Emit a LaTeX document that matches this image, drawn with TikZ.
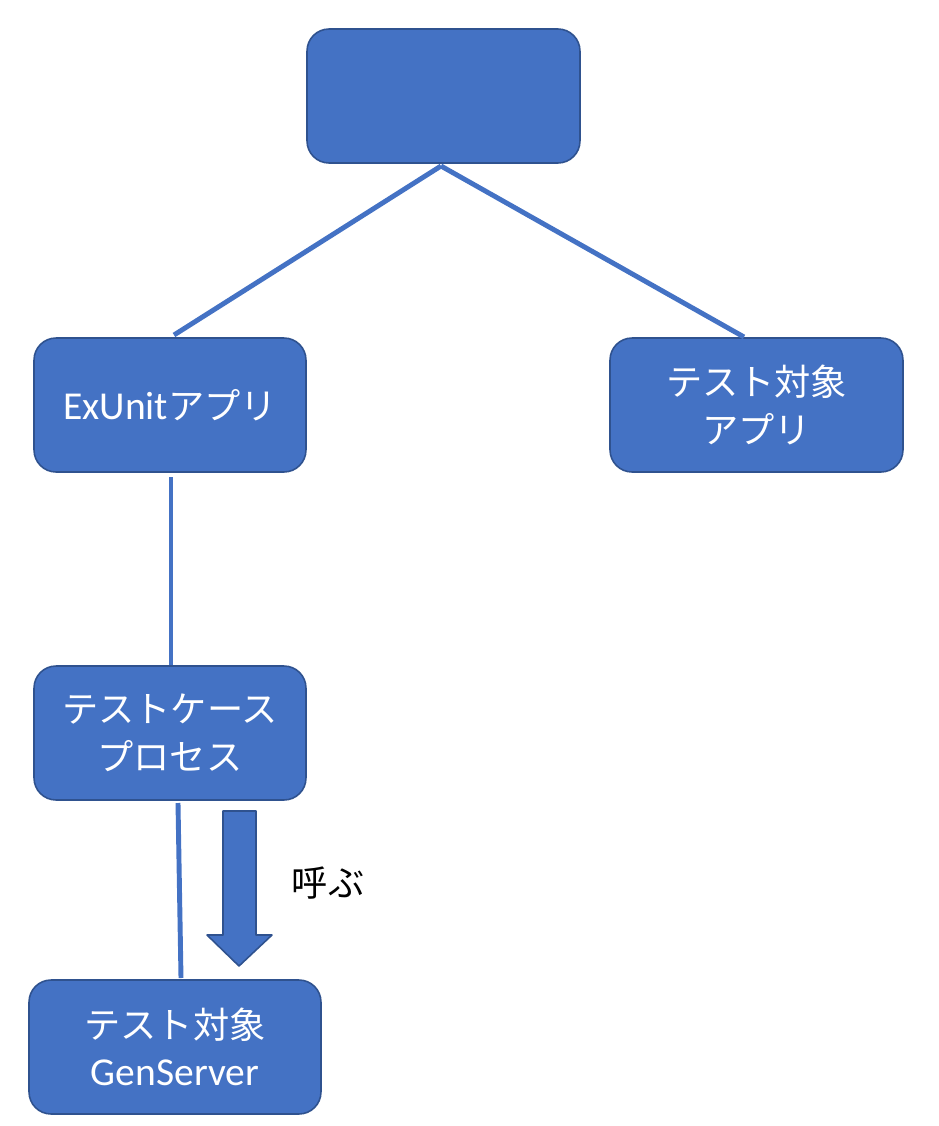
\documentclass[tikz,border=0pt]{standalone}
\usepackage{fontspec}
\setmainfont{Noto Sans CJK JP}
\newfontfamily\lat{Carlito}
\definecolor{boxblue}{HTML}{4472C4}
\definecolor{boxedge}{HTML}{2F528F}
\tikzset{
  box/.style={draw=boxedge,fill=boxblue,line width=0.9pt,rounded corners=0.44cm,
    text=white,align=center,inner sep=0pt,font=\fontsize{20.6}{27}\selectfont},
  link/.style={draw=boxblue,line width=2.8pt}
}
\begin{document}
\begin{tikzpicture}[x=0.02cm,y=-0.02cm,line join=round]
  \useasboundingbox (0,0) rectangle (939,1126);
  % boxes
  \node[box,minimum width=5.46cm,minimum height=2.68cm] (root) at (443.5,96) {};
  \node[box,minimum width=5.44cm,minimum height=2.68cm] (exunit) at (170,405) {{\lat\fontsize{22.5}{27}\selectfont ExUnit}アプリ};
  \node[box,minimum width=5.86cm,minimum height=2.68cm] (target) at (756.5,405) {テスト対象\\アプリ};
  \node[box,minimum width=5.44cm,minimum height=2.68cm] (testcase) at (170,733) {テストケース\\プロセス};
  \node[box,minimum width=5.84cm,minimum height=2.68cm] (genserver) at (175,1047) {テスト対象\\{\lat\fontsize{22.5}{27}\selectfont GenServer}};
  \node[font=\fontsize{20.6}{27}\selectfont] (call) at (328,883) {呼ぶ};
  % connector ends
  \coordinate (fork) at (441,166);
  \coordinate (exunittop) at (174,335);
  \coordinate (targettop) at (744,337);
  \draw[link] (fork) -- (exunittop);
  \draw[link] (fork) -- (targettop);
  \draw[link] (171,477) -- (171,665);
  \draw[link] (178,803) -- (181,978);
  % block arrow
  \draw[draw=boxedge,fill=boxblue,line width=0.9pt]
    (223,811) -- (256,811) -- (256,935) -- (272,935) -- (239,966)
    -- (207,935) -- (223,935) -- cycle;
\end{tikzpicture}
\end{document}
